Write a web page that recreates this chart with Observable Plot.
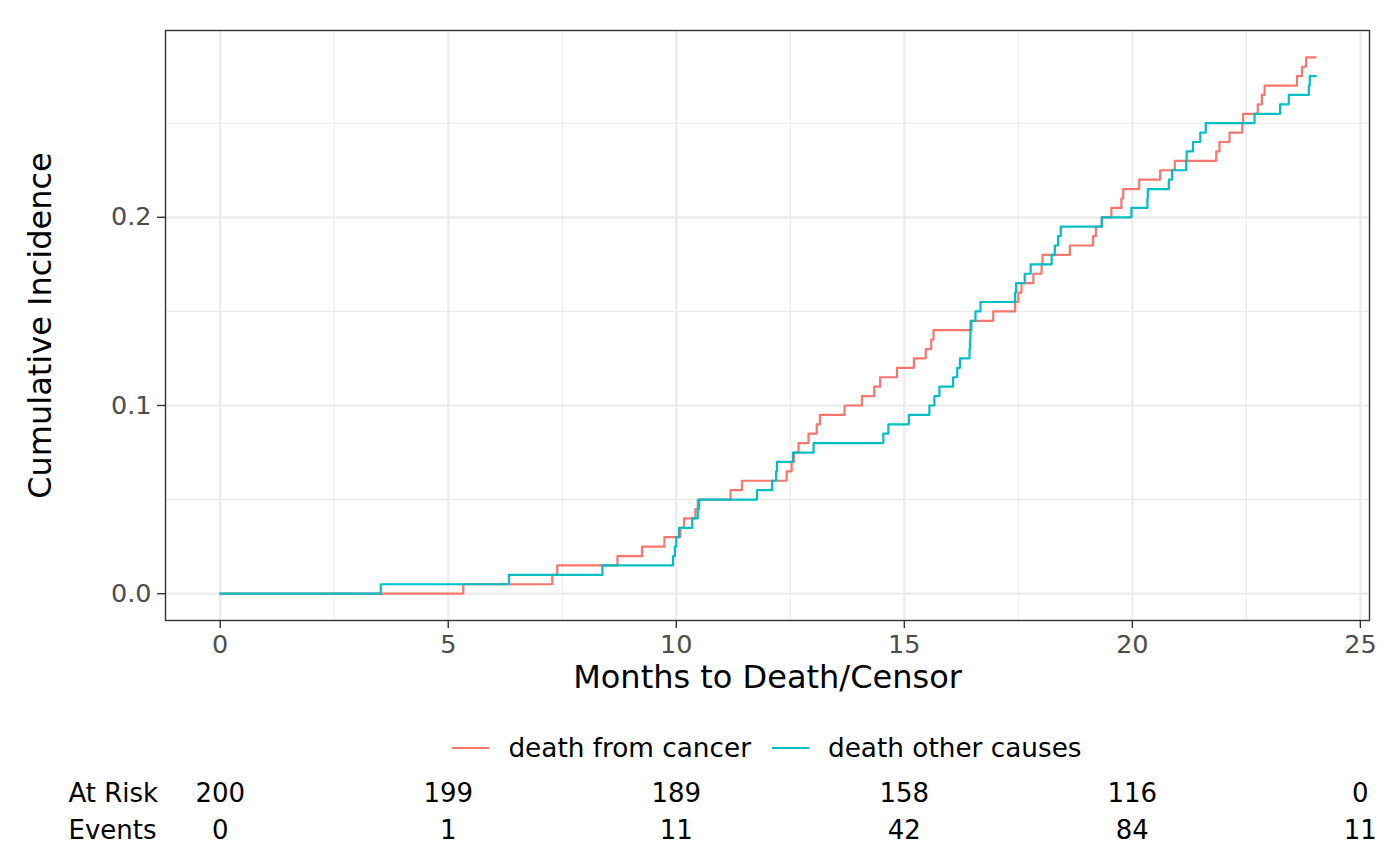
<!DOCTYPE html>
<html>
<head>
<meta charset="utf-8">
<script src="https://cdn.jsdelivr.net/npm/d3@7"></script>
<script src="https://cdn.jsdelivr.net/npm/@observablehq/plot@0.6"></script>
<style>
  body { margin: 0; background: #fff; font-family: "DejaVu Sans", sans-serif; }
  #wrap { position: relative; width: 1400px; height: 865px; overflow: hidden; }
  #legend { position: absolute; left: 165px; width: 1204px; top: 729px; height: 38px;
            display: flex; align-items: center; justify-content: center; font-size: 26.3px; color: #000; }
  .key { display: flex; align-items: center; margin: 0 10.5px; }
  .sw { width: 37px; height: 2.4px; margin-right: 19px; }
</style>
</head>
<body>
<div id="wrap"><div id="legend"></div></div>
<script>
// ---- data ----
const seriesNames = ["death from cancer", "death other causes"];
const seriesColors = ["#F8766D", "#00BFC4"];

const cancerTimes = [0, 5.33, 7.28, 7.39, 8.71, 9.25, 9.74, 10.09, 10.17, 10.42, 10.47, 11.19, 11.44, 12.42, 12.53, 12.58, 12.68, 12.90, 13.08, 13.15, 13.69, 14.07, 14.34, 14.47, 14.84, 15.21, 15.47, 15.59, 15.64, 16.45, 16.95, 17.43, 17.50, 17.57, 17.83, 18.01, 18.03, 18.63, 19.14, 19.20, 19.33, 19.54, 19.76, 19.80, 20.15, 20.61, 20.93, 21.84, 21.91, 22.13, 22.41, 22.43, 22.75, 22.84, 22.90, 23.61, 23.72, 23.81, 24.02];
const cancerValues = [0, 0.005, 0.010, 0.015, 0.020, 0.025, 0.030, 0.035, 0.040, 0.045, 0.050, 0.055, 0.060, 0.065, 0.070, 0.075, 0.080, 0.085, 0.090, 0.095, 0.100, 0.105, 0.110, 0.115, 0.120, 0.125, 0.130, 0.135, 0.140, 0.145, 0.150, 0.155, 0.160, 0.165, 0.170, 0.175, 0.180, 0.185, 0.190, 0.195, 0.200, 0.205, 0.210, 0.215, 0.220, 0.225, 0.230, 0.235, 0.240, 0.245, 0.250, 0.255, 0.260, 0.265, 0.270, 0.275, 0.280, 0.285, 0.285];

const otherTimes = [0, 3.52, 6.33, 8.38, 9.93, 9.97, 10.00, 10.06, 10.35, 10.47, 10.50, 11.77, 12.10, 12.19, 12.21, 12.56, 13.01, 14.54, 14.65, 15.10, 15.55, 15.66, 15.77, 16.07, 16.16, 16.22, 16.43, 16.44, 16.45, 16.47, 16.56, 16.67, 17.43, 17.45, 17.64, 17.77, 18.23, 18.30, 18.37, 18.43, 19.33, 19.98, 20.33, 20.34, 20.80, 20.87, 21.18, 21.19, 21.33, 21.49, 21.61, 22.68, 23.24, 23.43, 23.87, 23.89, 24.02];
const otherValues = [0, 0.005, 0.010, 0.015, 0.020, 0.025, 0.030, 0.035, 0.040, 0.045, 0.050, 0.055, 0.060, 0.065, 0.070, 0.075, 0.080, 0.085, 0.090, 0.095, 0.100, 0.105, 0.110, 0.115, 0.120, 0.125, 0.130, 0.135, 0.140, 0.145, 0.150, 0.155, 0.160, 0.165, 0.170, 0.175, 0.180, 0.185, 0.190, 0.195, 0.200, 0.205, 0.210, 0.215, 0.220, 0.225, 0.230, 0.235, 0.240, 0.245, 0.250, 0.255, 0.260, 0.265, 0.270, 0.275, 0.275];

const xTicks = [0, 5, 10, 15, 20, 25];
const xMinor = [2.5, 7.5, 12.5, 17.5, 22.5];
const yTicks = [0, 0.1, 0.2];
const yMinor = [0.05, 0.15, 0.25];

const tableTimes = [0, 5, 10, 15, 20, 25];
const atRisk = [200, 199, 189, 158, 116, 0];
const events = [0, 1, 11, 42, 84, 11];
const rowLabels = ["At Risk", "Events"];

const xTitle = "Months to Death/Censor";
const yTitle = "Cumulative Incidence";

// ---- build table ----
const lineData = [
  ...cancerTimes.map((t, i) => ({t, v: cancerValues[i], series: seriesNames[0]})),
  ...otherTimes.map((t, i) => ({t, v: otherValues[i], series: seriesNames[1]}))
];

const FS = 25.5;
const TS = 26;
const chart = Plot.plot({
  width: 1400,
  height: 865,
  marginLeft: 165,
  marginRight: 31,
  marginTop: 30,
  marginBottom: 245,
  style: { fontFamily: "DejaVu Sans", background: "#fff", overflow: "visible" },
  x: { domain: [-1.2, 25.2] },
  y: { domain: [-0.01425, 0.29925] },
  color: { domain: seriesNames, range: seriesColors },
  marks: [
    Plot.ruleX(xMinor, { stroke: "#EBEBEB", strokeWidth: 1.1 }),
    Plot.ruleY(yMinor, { stroke: "#EBEBEB", strokeWidth: 1.1 }),
    Plot.ruleX(xTicks, { stroke: "#EBEBEB", strokeWidth: 2.2 }),
    Plot.ruleY(yTicks, { stroke: "#EBEBEB", strokeWidth: 2.2 }),
    Plot.line(lineData, { x: "t", y: "v", z: "series", stroke: "series", curve: "step-after", strokeWidth: 2.2 }),
    Plot.frame({ stroke: "#333333", strokeWidth: 1.4 }),
    Plot.axisX({ ticks: xTicks, tickSize: 8, tickPadding: 6, fontSize: FS, stroke: "#333333", fill: "#4D4D4D", strokeWidth: 1.4, label: null }),
    Plot.axisY({ ticks: yTicks, tickFormat: d3.format(".1f"), tickSize: 8, tickPadding: 6, fontSize: FS, stroke: "#333333", fill: "#4D4D4D", strokeWidth: 1.4, label: null }),
    Plot.text([xTitle], { text: d => d, frameAnchor: "bottom", lineAnchor: "middle", textAnchor: "middle", dy: 57, fontSize: 32, fill: "#000" }),
    Plot.text([yTitle], { text: d => d, frameAnchor: "left", lineAnchor: "middle", textAnchor: "middle", dx: -125, rotate: -90, fontSize: 32, fill: "#000" }),
    Plot.text(atRisk, { x: (d, i) => tableTimes[i], text: d => String(d), frameAnchor: "bottom", lineAnchor: "middle", dy: 173, fontSize: TS, fill: "#000" }),
    Plot.text(events, { x: (d, i) => tableTimes[i], text: d => String(d), frameAnchor: "bottom", lineAnchor: "middle", dy: 210, fontSize: TS, fill: "#000" }),
    Plot.text([rowLabels[0]], { text: d => d, frameAnchor: "bottom-left", lineAnchor: "middle", dx: -97, dy: 173, textAnchor: "start", fontSize: TS, fill: "#000" }),
    Plot.text([rowLabels[1]], { text: d => d, frameAnchor: "bottom-left", lineAnchor: "middle", dx: -97, dy: 210, textAnchor: "start", fontSize: TS, fill: "#000" })
  ]
});
const wrap = document.getElementById("wrap");
wrap.insertBefore(chart, wrap.firstChild);

const legend = document.getElementById("legend");
seriesNames.forEach((name, i) => {
  const k = document.createElement("div");
  k.className = "key";
  const sw = document.createElement("div");
  sw.className = "sw";
  sw.style.background = seriesColors[i];
  const lab = document.createElement("span");
  lab.textContent = name;
  k.appendChild(sw);
  k.appendChild(lab);
  legend.appendChild(k);
});
</script>
</body>
</html>
